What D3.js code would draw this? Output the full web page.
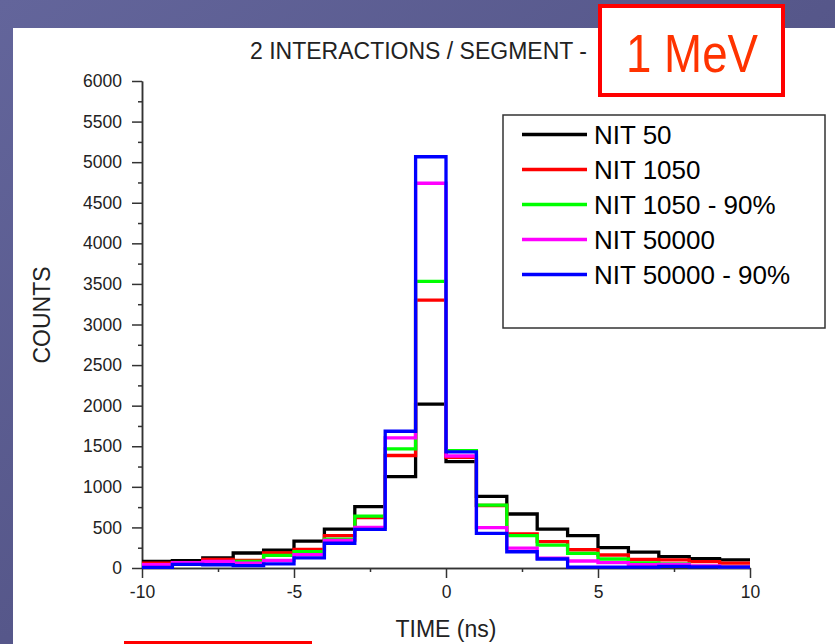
<!DOCTYPE html>
<html>
<head>
<meta charset="utf-8">
<script src="https://cdn.jsdelivr.net/npm/d3@7"></script>
<style>
  html, body { margin: 0; padding: 0; overflow: hidden; }
  text { font-family: Arial, "Liberation Sans", sans-serif; }
</style>
</head>
<body>
<script>
// bin edges in ns (1 ns wide bins)
const binEdges = [-10, -9, -8, -7, -6, -5, -4, -3, -2, -1, 0, 1, 2, 3, 4, 5, 6, 7, 8, 9, 10];

// counts per bin
const nit50 =        [80, 90, 125, 185, 220, 330, 480, 757, 1125, 2020, 1310, 883, 665, 480, 398, 250, 195, 140, 115, 100];
const nit1050 =      [60, 65, 105, 95, 185, 230, 400, 620, 1386, 3300, 1364, 770, 420, 325, 225, 160, 105, 100, 78, 60];
const nit1050_90 =   [36, 50, 60, 80, 155, 200, 355, 638, 1468, 3532, 1445, 775, 398, 283, 181, 111, 62, 50, 20, 15];
const nit50000 =     [40, 65, 80, 60, 95, 165, 340, 500, 1604, 4740, 1380, 497, 244, 120, 86, 65, 40, 45, 25, 15];
const nit50000_90 =  [8, 45, 40, 30, 50, 125, 305, 475, 1685, 5067, 1430, 427, 200, 111, 10, 10, 10, 20, 15, 10];

const seriesNames = ["NIT 50", "NIT 1050", "NIT 1050 - 90%", "NIT 50000", "NIT 50000 - 90%"];
const seriesValues = [nit50, nit1050, nit1050_90, nit50000, nit50000_90];
const seriesColors = ["#000000", "#ff0000", "#00ff00", "#ff00ff", "#0000ff"];

const xTicks = [-10, -5, 0, 5, 10];
const xMinorTicks = [-7.5, -2.5, 2.5, 7.5];
const yTicks = [0, 500, 1000, 1500, 2000, 2500, 3000, 3500, 4000, 4500, 5000, 5500, 6000];
const yMinorTicks = [250, 750, 1250, 1750, 2250, 2750, 3250, 3750, 4250, 4750, 5250, 5750];

const width = 835
const height = 644
const plot = { left: 142, right: 750, top: 81, bottom: 568 }

const svg = d3.select("body")
  .append("svg")
  .attr("width", width)
  .attr("height", height)

// slide background
const defs = svg.append("defs")
const grad = defs.append("linearGradient")
  .attr("id", "bg").attr("x1", 0).attr("y1", 0).attr("x2", 1).attr("y2", 1)
grad.append("stop").attr("offset", "0%").attr("stop-color", "#63659b")
grad.append("stop").attr("offset", "50%").attr("stop-color", "#56578a")
grad.append("stop").attr("offset", "100%").attr("stop-color", "#4a4a78")

svg.append("rect").attr("width", width).attr("height", height).attr("fill", "url(#bg)")

// white panel of the pasted figure
svg.append("rect")
  .attr("x", 13).attr("y", 28)
  .attr("width", width - 13).attr("height", height - 28)
  .attr("fill", "#ffffff")

//scales
const xScale = d3.scaleLinear().domain([-10, 10]).range([plot.left, plot.right])
const yScale = d3.scaleLinear().domain([0, 6000]).range([plot.bottom, plot.top])

//axes
const axisColor = "#333333"
const styleAxis = (g) => {
  g.selectAll("path, line").attr("stroke", axisColor).attr("stroke-width", 1.5)
  g.selectAll("text")
    .attr("fill", "#222222")
    .style("font-size", "17.5px")
    .style("font-family", "Arial, 'Liberation Sans', sans-serif")
}

svg.append("g")
  .attr("transform", `translate(0, ${plot.bottom})`)
  .call(d3.axisBottom(xScale).tickValues(xMinorTicks).tickSize(4).tickSizeOuter(0).tickFormat(""))
  .call(styleAxis)
svg.append("g")
  .attr("transform", `translate(0, ${plot.bottom})`)
  .call(d3.axisBottom(xScale).tickValues(xTicks).tickSize(10).tickSizeOuter(0).tickPadding(8).tickFormat(d3.format("d")))
  .call(styleAxis)
  .selectAll("text").text(d => d < 0 ? "-" + Math.abs(d) : d)

svg.append("g")
  .attr("transform", `translate(${plot.left}, 0)`)
  .call(d3.axisLeft(yScale).tickValues(yMinorTicks).tickSize(4).tickSizeOuter(0).tickFormat(""))
  .call(styleAxis)
svg.append("g")
  .attr("transform", `translate(${plot.left}, 0)`)
  .call(d3.axisLeft(yScale).tickValues(yTicks).tickSize(10).tickSizeOuter(0).tickPadding(10).tickFormat(d3.format("d")))
  .call(styleAxis)

//histogram outlines
const stepLine = d3.line()
  .x(d => xScale(d[0]))
  .y(d => yScale(d[1]))
  .curve(d3.curveStepAfter)

seriesValues.forEach((values, i) => {
  const pts = binEdges.map((e, j) => [e, values[Math.min(j, values.length - 1)]])
  svg.append("path")
    .attr("d", stepLine(pts))
    .attr("fill", "none")
    .attr("stroke", seriesColors[i])
    .attr("stroke-width", 3.3)
    .attr("stroke-linejoin", "miter")
})

//titles
svg.append("text")
  .attr("x", 250).attr("y", 59)
  .attr("fill", "#222222")
  .style("font-size", "23px")
  .text("2 INTERACTIONS / SEGMENT -")

svg.append("text")
  .attr("transform", `translate(42, 315) rotate(-90)`)
  .attr("text-anchor", "middle")
  .attr("dy", "0.36em")
  .attr("fill", "#222222")
  .style("font-size", "23px")
  .text("COUNTS")

svg.append("text")
  .attr("x", 446).attr("y", 637)
  .attr("text-anchor", "middle")
  .attr("fill", "#222222")
  .style("font-size", "23px")
  .text("TIME (ns)")

//legend
const legend = svg.append("g")
legend.append("rect")
  .attr("x", 503).attr("y", 115)
  .attr("width", 322).attr("height", 213)
  .attr("fill", "#ffffff")
  .attr("stroke", "#333333")
  .attr("stroke-width", 1.5)

const legendRows = legend.selectAll("g.row")
  .data(seriesNames)
  .join("g")
  .attr("class", "row")
  .attr("transform", (d, i) => `translate(0, ${134.5 + i * 35})`)
legendRows.append("line")
  .attr("x1", 522).attr("x2", 587)
  .attr("stroke", (d, i) => seriesColors[i])
  .attr("stroke-width", 3.3)
legendRows.append("text")
  .attr("x", 594).attr("dy", "0.37em")
  .attr("fill", "#000000")
  .style("font-size", "26px")
  .text(d => d)

//energy label box
svg.append("rect")
  .attr("x", 600).attr("y", 6)
  .attr("width", 183).attr("height", 89)
  .attr("fill", "#ffffff")
  .attr("stroke", "#ff0000")
  .attr("stroke-width", 4)
svg.append("text")
  .attr("x", 626).attr("y", 71.5)
  .attr("textLength", 132)
  .attr("lengthAdjust", "spacingAndGlyphs")
  .attr("fill", "#ff3300")
  .style("font-size", "54px")
  .text("1 MeV")

// top edge of the next box on the slide
svg.append("rect")
  .attr("x", 124).attr("y", 641)
  .attr("width", 188).attr("height", 4)
  .attr("fill", "#ff0000")
</script>
</body>
</html>
